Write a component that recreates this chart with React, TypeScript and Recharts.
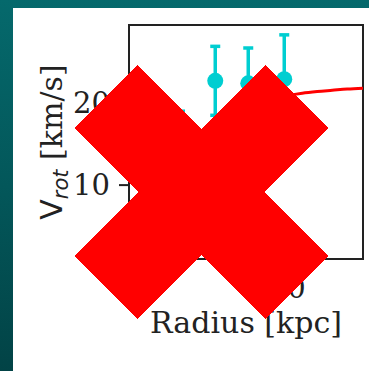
import { ComposedChart, Scatter, Line, XAxis, YAxis, ErrorBar, Label, ReferenceArea } from 'recharts';

// measured rotation curve (kpc, km/s)
const radius = [0.55, 2.85, 5.2, 7.4, 9.8];
const vrot = [7.0, 15.0, 22.7, 22.4, 22.9];
const vrotErr = [4.5, 4.0, 4.2, 4.3, 5.4];

// fitted model curve
const modelRadius = [0, 1, 2, 3, 4, 5, 6, 7, 8, 9, 10, 11, 12, 13, 14, 15.05];
const modelVrot = [0, 6, 10.5, 13.8, 16.0, 17.5, 18.6, 19.4, 20.0, 20.5, 20.9, 21.2, 21.4, 21.55, 21.7, 21.8];

const xTicks = [0, 10];
const yTicks = [10, 20];
const xDomain: [number, number] = [-0.55, 15.05];
const yDomain: [number, number] = [1, 29.5];

const obsData = radius.map((r, i) => ({ r, v: vrot[i], err: vrotErr[i] }));
const modelData = modelRadius.map((r, i) => ({ r, v: modelVrot[i] }));

const INK = '#222';
const CYAN = '#00CED1';
const SERIF = '"DejaVu Serif", serif';
const tickStyle = { fill: INK, fontSize: 29, fontFamily: SERIF };

// big red cross drawn over the figure
const CROSS_C = { x: 201, y: 192 };
const NOTCH = 63;
const ARM_A = 64;
const ARM_B = 127;
const crossPoints = [
  [0, -NOTCH], [ARM_A, -ARM_B], [ARM_B, -ARM_A], [NOTCH, 0],
  [ARM_B, ARM_A], [ARM_A, ARM_B], [0, NOTCH], [-ARM_A, ARM_B],
  [-ARM_B, ARM_A], [-NOTCH, 0], [-ARM_B, -ARM_A], [-ARM_A, -ARM_B],
].map(([dx, dy]) => `${CROSS_C.x + dx},${CROSS_C.y + dy}`).join(' ');

function Marker(props: any) {
  const { cx, cy } = props;
  if (cx == null || cy == null) return null;
  return <circle cx={cx} cy={cy} r={8} fill={CYAN} />;
}

export default function App() {
  return (
    <div
      style={{
        position: 'fixed', left: 0, top: 0, width: 369, height: 371, overflow: 'hidden',
        background: 'linear-gradient(180deg, #05696c 0%, #03575a 50%, #024346 100%)',
      }}
    >
      <div style={{ position: 'absolute', left: 13, top: 8, right: 0, bottom: 0, background: '#fff' }} />
      <div style={{ position: 'absolute', left: 0, top: 0 }}>
        <ComposedChart width={369} height={371} margin={{ top: 25, right: 6, bottom: 32, left: 0 }}>
          <XAxis
            dataKey="r"
            type="number"
            domain={xDomain}
            ticks={xTicks}
            allowDataOverflow
            height={80}
            tick={tickStyle}
            tickSize={10}
            tickMargin={8}
            axisLine={{ stroke: INK, strokeWidth: 2 }}
            tickLine={{ stroke: INK, strokeWidth: 2 }}
          >
            <Label
              content={({ viewBox }: any) => (
                <text
                  x={viewBox.x + viewBox.width / 2}
                  y={viewBox.y + 74}
                  textAnchor="middle"
                  fill={INK}
                  fontSize={30}
                  fontFamily={SERIF}
                >
                  Radius [kpc]
                </text>
              )}
            />
          </XAxis>
          <YAxis
            type="number"
            domain={yDomain}
            ticks={yTicks}
            allowDataOverflow
            width={129}
            tick={tickStyle}
            tickSize={10}
            tickMargin={9}
            axisLine={{ stroke: INK, strokeWidth: 2 }}
            tickLine={{ stroke: INK, strokeWidth: 2 }}
          >
            <Label
              content={({ viewBox }: any) => {
                const cx = 62;
                const cy = viewBox.y + viewBox.height / 2;
                return (
                  <text
                    x={cx}
                    y={cy}
                    transform={`rotate(-90, ${cx}, ${cy})`}
                    textAnchor="middle"
                    fill={INK}
                    fontSize={30}
                    fontFamily={SERIF}
                  >
                    <tspan fontFamily='"DejaVu Sans", sans-serif'>V</tspan>
                    <tspan fontFamily='"DejaVu Sans", sans-serif' fontStyle="italic" fontSize={21} dy={6}>rot</tspan>
                    <tspan dy={-6}> [km/s]</tspan>
                  </text>
                );
              }}
            />
          </YAxis>
          {/* full box around the plot area */}
          <ReferenceArea
            x1={xDomain[0]}
            x2={xDomain[1]}
            y1={yDomain[0]}
            y2={yDomain[1]}
            fill="none"
            fillOpacity={0}
            stroke={INK}
            strokeWidth={2}
          />
          <Scatter data={obsData} dataKey="v" shape={<Marker />} isAnimationActive={false}>
            <ErrorBar dataKey="err" direction="y" width={5} strokeWidth={3.5} stroke={CYAN} isAnimationActive={false} />
          </Scatter>
          <Line
            data={modelData}
            dataKey="v"
            type="monotone"
            stroke="#ff0000"
            strokeWidth={3}
            dot={false}
            activeDot={false}
            isAnimationActive={false}
          />
        </ComposedChart>
      </div>
      <svg
        width={369}
        height={371}
        style={{ position: 'absolute', left: 0, top: 0, pointerEvents: 'none' }}
      >
        <polygon points={crossPoints} fill="#ff0000" shapeRendering="crispEdges" />
      </svg>
    </div>
  );
}
